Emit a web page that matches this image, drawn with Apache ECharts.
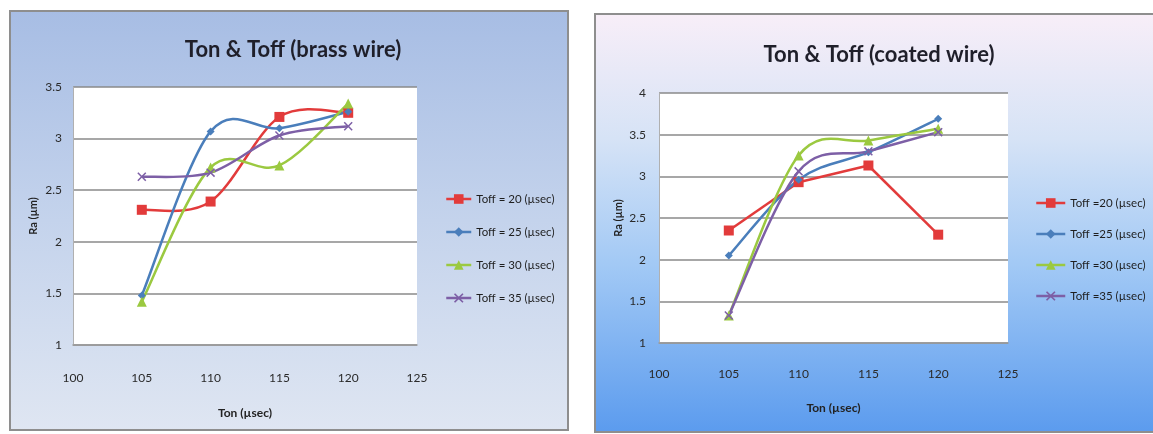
<!DOCTYPE html>
<html>
<head>
<meta charset="utf-8">
<script src="https://cdn.jsdelivr.net/npm/echarts@6/dist/echarts.min.js"></script>
<style>
html,body{margin:0;padding:0;background:#fff;}
#c{width:1153px;height:434px;}
</style>
</head>
<body>
<div id="c"></div>
<script>
// ---- data ----
const tonValues = [105, 110, 115, 120];
const xTicks = [100, 105, 110, 115, 120, 125];

const brassNames = ['Toff = 20 (µsec)', 'Toff = 25 (µsec)', 'Toff = 30 (µsec)', 'Toff = 35 (µsec)'];
const brass20 = [2.31, 2.39, 3.21, 3.25];
const brass25 = [1.48, 3.07, 3.10, 3.26];
const brass30 = [1.42, 2.72, 2.74, 3.34];
const brass35 = [2.63, 2.67, 3.03, 3.12];

const coatedNames = ['Toff =20 (µsec)', 'Toff =25 (µsec)', 'Toff =30 (µsec)', 'Toff =35 (µsec)'];
const coated20 = [2.35, 2.93, 3.13, 2.30];
const coated25 = [2.05, 2.96, 3.29, 3.69];
const coated30 = [1.33, 3.25, 3.43, 3.57];
const coated35 = [1.33, 3.06, 3.30, 3.53];

const titles = ['Ton & Toff (brass wire)', 'Ton & Toff (coated wire)'];
const xName = 'Ton (µsec)';
const yName = 'Ra (µm)';

// ---- styles ----
const FONT = "Lato, 'Open Sans', sans-serif";
const colors = ['#e23b3b', '#4a7ebb', '#9bc940', '#7d5fa6'];
const xMark = 'path://M0,1.2L1.2,0L5,3.8L8.8,0L10,1.2L6.2,5L10,8.8L8.8,10L5,6.2L1.2,10L0,8.8L3.8,5Z';
const symbols = ['rect', 'diamond', 'triangle', xMark];
const symSizes = [10, 8, 10, 9];

function pairs(vals) { return tonValues.map((t, i) => [t, vals[i]]); }

// marker series (also used by the legend); the connecting line is drawn by the curve series
function markerSeries(names, arrays, idx) {
  return arrays.map((arr, i) => ({
    name: names[i],
    type: 'line',
    xAxisIndex: idx, yAxisIndex: idx,
    data: pairs(arr),
    symbol: symbols[i],
    symbolSize: symSizes[i],
    showAllSymbol: true,
    lineStyle: { color: colors[i], width: 2.5, opacity: 0 },
    itemStyle: { color: colors[i] },
    z: 10 + i
  }));
}

// smoothed connecting line (Catmull-Rom style bezier through the data points, via axis coords)
function curveSeries(names, arrays, idx, tensions) {
  return arrays.map((vals, i) => ({
    name: names[i],
    type: 'custom',
    xAxisIndex: idx, yAxisIndex: idx,
    data: pairs(vals),
    silent: true,
    z: 3 + i,
    renderItem: function (params, api) {
      const k = params.dataIndex;
      const n = vals.length;
      if (k >= n - 1) return null;
      const cl = j => Math.max(0, Math.min(n - 1, j));
      const P = j => api.coord([tonValues[cl(j)], vals[cl(j)]]);
      const p0 = P(k - 1), p1 = P(k), p2 = P(k + 1), p3 = P(k + 2);
      const t = tensions[i];
      return {
        type: 'bezierCurve',
        shape: {
          x1: p1[0], y1: p1[1], x2: p2[0], y2: p2[1],
          cpx1: p1[0] + (p2[0] - p0[0]) * t, cpy1: p1[1] + (p2[1] - p0[1]) * t,
          cpx2: p2[0] - (p3[0] - p1[0]) * t, cpy2: p2[1] - (p3[1] - p1[1]) * t
        },
        style: { stroke: colors[i], lineWidth: 2.5, fill: null }
      };
    }
  }));
}

const axisLabelStyle = { color: '#2a2a2a', fontFamily: FONT, fontSize: 12 };
const legendCommon = {
  orient: 'vertical', itemHeight: 12,
  lineStyle: { width: 2.5, opacity: 1 },
  textStyle: { fontFamily: FONT, fontSize: 11.5, color: '#1e1e1e' }
};

const chart = echarts.init(document.getElementById('c'), null, { renderer: 'canvas' });
chart.setOption({
  animation: false,
  backgroundColor: '#ffffff',
  graphic: [
    { type: 'rect', shape: { x: 10, y: 11, width: 558, height: 419 }, z: -10,
      style: { fill: new echarts.graphic.LinearGradient(0, 0, 0, 1, [
        { offset: 0, color: '#a7bde4' }, { offset: 0.5, color: '#c4d3ec' }, { offset: 1, color: '#dfe6f2' }]),
        stroke: '#8e8e8e', lineWidth: 2 } },
    { type: 'rect', shape: { x: 595, y: 14, width: 570, height: 418 }, z: -10,
      style: { fill: new echarts.graphic.LinearGradient(0, 0, 0, 1, [
        { offset: 0, color: '#f8eef8' }, { offset: 0.3, color: '#d6e3f6' }, { offset: 0.6, color: '#a2c9f5' }, { offset: 1, color: '#5b9bee' }]),
        stroke: '#8e8e8e', lineWidth: 2 } }
  ],
  title: [
    { text: titles[0], left: 288, top: 34, textAlign: 'center',
      textStyle: { fontFamily: FONT, fontWeight: 'bold', fontSize: 22, color: '#1f1f2a' } },
    { text: titles[1], left: 874, top: 39, textAlign: 'center',
      textStyle: { fontFamily: FONT, fontWeight: 'bold', fontSize: 22, color: '#1f1f2a' } }
  ],
  legend: [
    Object.assign({ data: brassNames, left: 440, top: 188, itemWidth: 25, itemGap: 21 }, legendCommon),
    Object.assign({ data: coatedNames, left: 1030, top: 192, itemWidth: 29, itemGap: 19 }, legendCommon)
  ],
  grid: [
    { left: 73, top: 87, width: 344, height: 258, show: true, backgroundColor: '#ffffff', borderWidth: 0 },
    { left: 659, top: 93, width: 349, height: 250, show: true, backgroundColor: '#ffffff', borderWidth: 0 }
  ],
  xAxis: [0, 1].map(i => ({
    type: 'value', gridIndex: i, min: xTicks[0], max: xTicks[xTicks.length - 1], interval: 5,
    name: xName, nameLocation: 'middle', nameGap: i === 0 ? 62 : 59,
    nameTextStyle: { fontFamily: FONT, fontWeight: 'bold', fontSize: 12, color: '#222' },
    axisLine: { show: true, lineStyle: { color: '#9a9a9a', width: 1.5 } },
    axisTick: { show: false },
    axisLabel: Object.assign({ margin: i === 0 ? 27 : 25 }, axisLabelStyle),
    splitLine: { show: false }
  })),
  yAxis: [0, 1].map(i => ({
    type: 'value', gridIndex: i, min: 1, max: i === 0 ? 3.5 : 4, interval: 0.5,
    name: yName, nameLocation: 'middle', nameGap: i === 0 ? 34 : 35, nameRotate: 90,
    nameTextStyle: { fontFamily: FONT, fontWeight: 'bold', fontSize: 11, color: '#222' },
    axisLine: { show: true, lineStyle: { color: '#b0b0b0', width: 1 } },
    axisTick: { show: false },
    axisLabel: Object.assign({ margin: i === 0 ? 11 : 13 }, axisLabelStyle),
    splitLine: { show: true, lineStyle: { color: '#8a8a8a', width: 1.5 } }
  })),
  series: [
    ...markerSeries(brassNames, [brass20, brass25, brass30, brass35], 0),
    ...markerSeries(coatedNames, [coated20, coated25, coated30, coated35], 1),
    ...curveSeries(brassNames, [brass20, brass25, brass30, brass35], 0, [1/6, 1/6, 1/6, 1/6]),
    ...curveSeries(coatedNames, [coated20, coated25, coated30, coated35], 1, [0, 1/6, 1/6, 1/6])
  ]
});
</script>
</body>
</html>
